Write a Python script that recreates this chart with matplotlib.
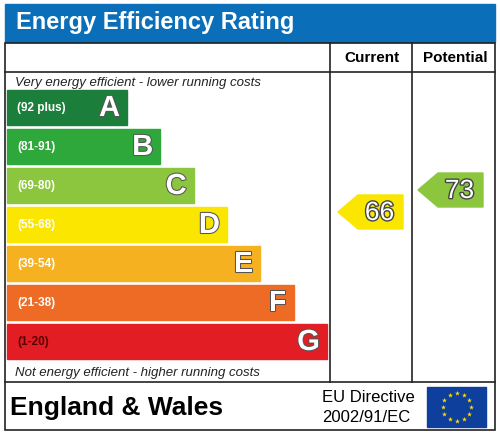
import matplotlib
matplotlib.use("Agg")
import matplotlib.pyplot as plt
from matplotlib.patches import Rectangle, Polygon
import matplotlib.patheffects as pe
import numpy as np

bands = ["A", "B", "C", "D", "E", "F", "G"]
ranges = ["(92 plus)", "(81-91)", "(69-80)", "(55-68)", "(39-54)", "(21-38)", "(1-20)"]
colors = ["#1b7f3b", "#2ea83a", "#8cc63f", "#fbe600", "#f5b120", "#ee6b25", "#e31d24"]
current = 66
potential = 73

FF = "Liberation Sans"
fig = plt.figure(figsize=(5, 4.37), dpi=100)
ax = fig.add_axes([0, 0, 1, 1])
ax.set_xlim(0, 500); ax.set_ylim(437, 0); ax.axis("off")

ax.add_patch(Rectangle((5, 4), 490, 38, color="#0a6fb8"))
ax.text(16, 23, "Energy Efficiency Rating", color="white", fontsize=17, fontweight="bold", va="center", family=FF)

lw = 1.2
ax.add_patch(Rectangle((5, 43), 490, 387, fill=False, ec="#222", lw=lw))
for x in (330, 412):
    ax.plot([x, x], [43, 382], color="#222", lw=lw)
ax.plot([5, 495], [72, 72], color="#222", lw=lw)
ax.plot([5, 495], [382, 382], color="#222", lw=lw)
ax.text(372, 58, "Current", ha="center", va="center", fontsize=11, fontweight="bold", family=FF)
ax.text(455, 58, "Potential", ha="center", va="center", fontsize=11, fontweight="bold", family=FF)
ax.text(15, 83, "Very energy efficient - lower running costs", fontsize=9.5, style="italic", va="center", color="#222", family=FF)
ax.text(15, 373, "Not energy efficient - higher running costs", fontsize=9.5, style="italic", va="center", color="#222", family=FF)

stroke = [pe.withStroke(linewidth=1.5, foreground="#555")]
for i, (b, r, c) in enumerate(zip(bands, ranges, colors)):
    top = 90 + i * 39
    right = 127 + i * 33.3
    ax.add_patch(Rectangle((7, top), right - 7, 35, color=c))
    tc = "white" if i != 6 else "#5a0000"
    ax.text(17, top + 18, r, fontsize=8.5, fontweight="bold", va="center", color=tc, family=FF)
    ax.text(right - 7, top + 18, b, fontsize=21, fontweight="bold", va="center", ha="right", color="white", path_effects=stroke, family=FF)

def arrow(val, xtip, xright, col):
    yc = 190 + (73 - val) * 3.14
    h = 17
    ax.add_patch(Polygon([(xtip, yc), (xtip + 20, yc - h), (xright, yc - h), (xright, yc + h), (xtip + 20, yc + h)], color=col))
    ax.text((xtip + 20 + xright) / 2 - 1, yc + 1, str(val), fontsize=19, ha="center", va="center", color="white",
            path_effects=[pe.withStroke(linewidth=2, foreground="#444")], family=FF)

def band_color(v):
    lims = [92, 81, 69, 55, 39, 21, 1]
    for l, c in zip(lims, colors):
        if v >= l:
            return c
    return colors[-1]

arrow(current, 338, 403, band_color(current))
arrow(potential, 418, 483, band_color(potential))

ax.text(10, 408, "England & Wales", fontsize=19, fontweight="bold", va="center", family=FF)
ax.text(322, 398, "EU Directive", fontsize=12, va="center", family=FF)
ax.text(322, 417, "2002/91/EC", fontsize=12, va="center", family=FF)
ax.add_patch(Rectangle((427, 387), 59, 40, color="#0f3f9c"))
ang = np.linspace(0, 2 * np.pi, 13)[:-1]
ax.scatter(456.5 + 14 * np.cos(ang), 407 + 14 * np.sin(ang), marker="*", s=14, color="#ffdd00", lw=0)

fig.savefig("out.png", dpi=100)
